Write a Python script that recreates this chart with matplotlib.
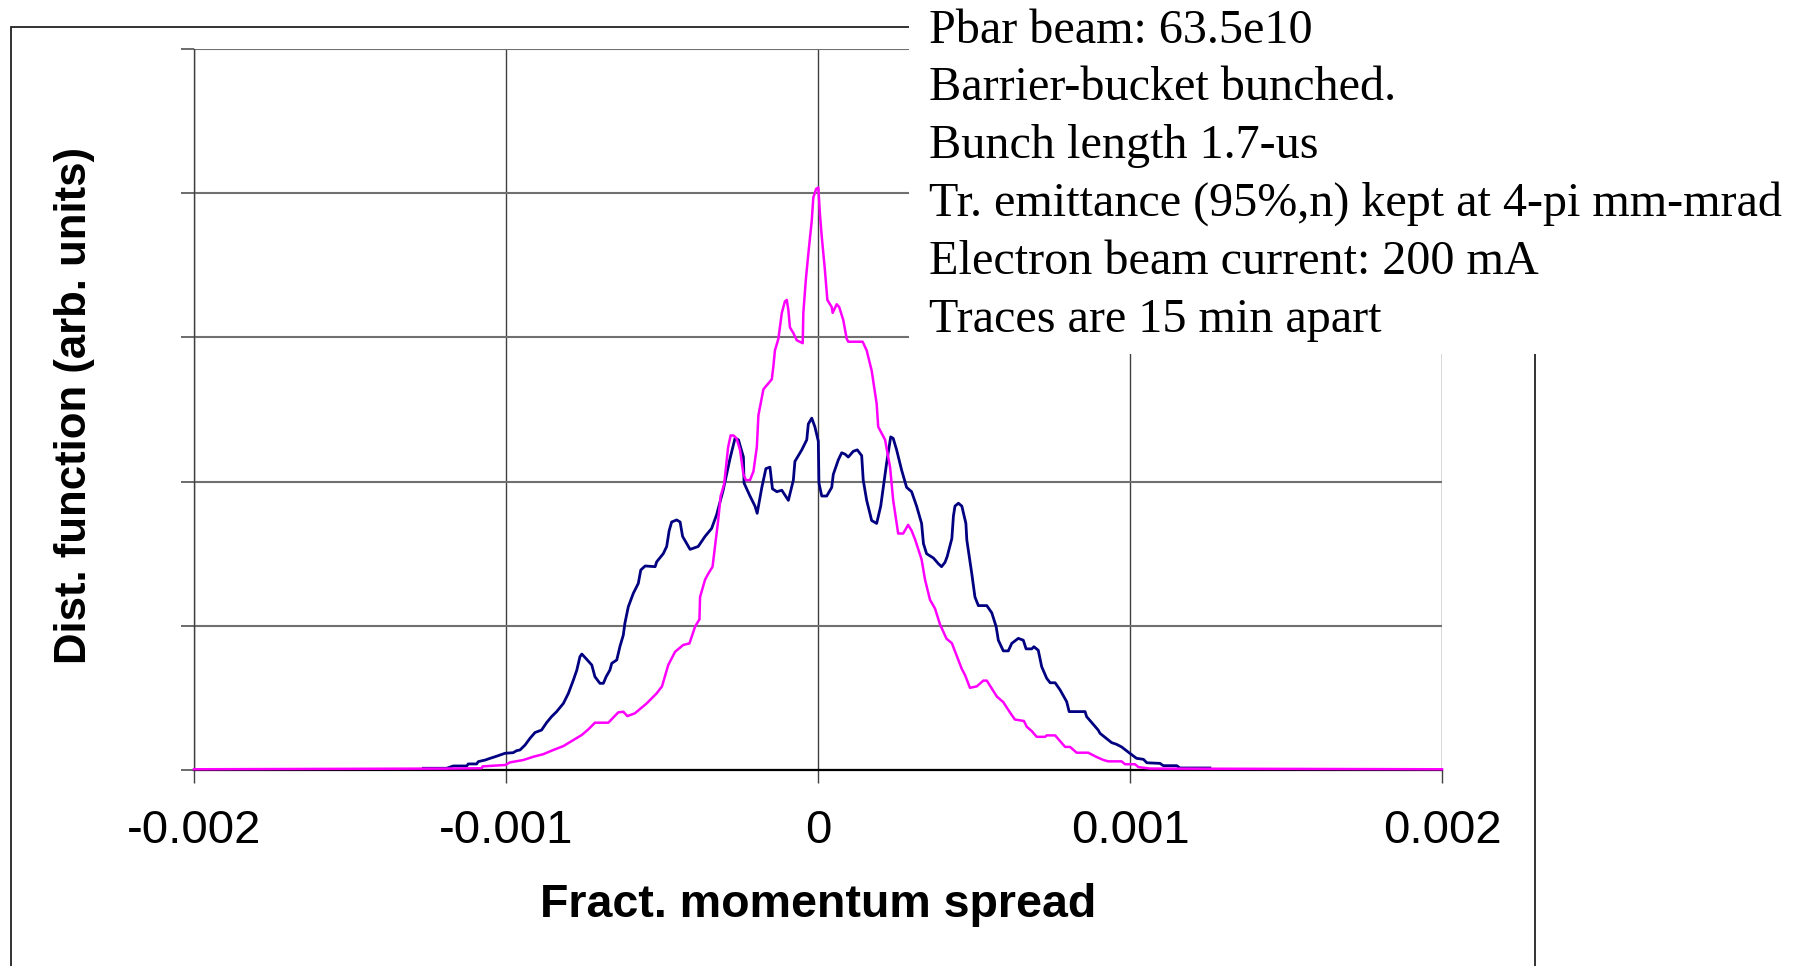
import matplotlib
matplotlib.use("Agg")
import matplotlib.pyplot as plt
from matplotlib.patches import Rectangle
import numpy as np

# ---- data (x in units of 1e-3 fractional momentum spread) ----
magenta_x_milli = [-2.000, -1.196, -1.078, -1.075, -1.002, -0.987, -0.945, -0.912, -0.880, -0.848,
                   -0.816, -0.784, -0.757, -0.736, -0.715, -0.672, -0.640, -0.624, -0.611, -0.587,
                   -0.549, -0.517, -0.500, -0.480, -0.458, -0.432, -0.412, -0.394, -0.380, -0.378,
                   -0.362, -0.352, -0.338, -0.330, -0.320, -0.312, -0.301, -0.295, -0.288, -0.280,
                   -0.271, -0.261, -0.250, -0.239, -0.231, -0.218, -0.207, -0.196, -0.191, -0.175,
                   -0.148, -0.143, -0.138, -0.127, -0.122, -0.116, -0.106, -0.100, -0.095, -0.090,
                   -0.079, -0.068, -0.049, -0.047, -0.039, -0.031, -0.020, -0.015, -0.006, 0.001,
                   0.006, 0.012, 0.022, 0.030, 0.044, 0.047, 0.060, 0.068, 0.081, 0.092,
                   0.097, 0.143, 0.156, 0.172, 0.188, 0.193, 0.215, 0.231, 0.241, 0.257,
                   0.273, 0.289, 0.300, 0.311, 0.332, 0.343, 0.359, 0.375, 0.391, 0.412,
                   0.429, 0.445, 0.461, 0.471, 0.487, 0.509, 0.530, 0.541, 0.573, 0.594,
                   0.615, 0.631, 0.660, 0.669, 0.685, 0.701, 0.728, 0.733, 0.760, 0.776,
                   0.792, 0.808, 0.829, 0.866, 0.893, 0.914, 0.930, 0.973, 0.984, 1.016,
                   1.027, 1.064, 2.000]
magenta_y = [0.005, 0.010, 0.012, 0.025, 0.035, 0.053, 0.069, 0.092, 0.110, 0.139,
             0.166, 0.208, 0.243, 0.282, 0.328, 0.328, 0.400, 0.404, 0.374, 0.393,
             0.462, 0.532, 0.580, 0.728, 0.820, 0.867, 0.878, 0.994, 1.045, 1.200,
             1.320, 1.360, 1.410, 1.550, 1.730, 1.900, 1.980, 2.100, 2.240, 2.320,
             2.320, 2.300, 2.220, 2.050, 2.010, 2.010, 2.070, 2.240, 2.460, 2.640,
             2.710, 2.800, 2.910, 2.990, 3.070, 3.170, 3.250, 3.260, 3.190, 3.070,
             3.030, 2.980, 2.960, 3.170, 3.400, 3.580, 3.810, 3.970, 4.030, 4.040,
             3.860, 3.700, 3.470, 3.260, 3.210, 3.170, 3.230, 3.210, 3.120, 2.990,
             2.970, 2.970, 2.910, 2.770, 2.540, 2.380, 2.290, 2.100, 1.870, 1.640,
             1.640, 1.700, 1.660, 1.600, 1.460, 1.320, 1.180, 1.120, 1.010, 0.910,
             0.880, 0.790, 0.700, 0.660, 0.570, 0.580, 0.620, 0.620, 0.510, 0.470,
             0.400, 0.350, 0.340, 0.300, 0.270, 0.230, 0.230, 0.240, 0.240, 0.200,
             0.160, 0.160, 0.120, 0.120, 0.090, 0.070, 0.060, 0.060, 0.040, 0.040,
             0.020, 0.010, 0.005]

navy_x_milli = [-1.265, -1.190, -1.169, -1.126, -1.121, -1.094, -1.089, -1.067, -1.051, -1.035,
                -1.019, -1.003, -0.977, -0.966, -0.955, -0.939, -0.923, -0.907, -0.886, -0.870,
                -0.854, -0.838, -0.816, -0.800, -0.784, -0.773, -0.763, -0.757, -0.744, -0.725,
                -0.715, -0.699, -0.688, -0.679, -0.667, -0.661, -0.645, -0.635, -0.624, -0.619,
                -0.608, -0.592, -0.576, -0.568, -0.554, -0.522, -0.517, -0.496, -0.485, -0.477,
                -0.469, -0.453, -0.442, -0.434, -0.410, -0.384, -0.362, -0.341, -0.325, -0.304,
                -0.282, -0.266, -0.255, -0.239, -0.237, -0.218, -0.202, -0.195, -0.180, -0.167,
                -0.154, -0.146, -0.132, -0.116, -0.095, -0.079, -0.074, -0.052, -0.036, -0.031,
                -0.020, -0.010, 0.001, 0.003, 0.012, 0.028, 0.044, 0.049, 0.065, 0.076,
                0.087, 0.097, 0.113, 0.126, 0.140, 0.145, 0.156, 0.172, 0.188, 0.201,
                0.220, 0.233, 0.241, 0.252, 0.268, 0.284, 0.300, 0.316, 0.332, 0.338,
                0.348, 0.370, 0.386, 0.396, 0.407, 0.414, 0.429, 0.434, 0.439, 0.450,
                0.461, 0.474, 0.477, 0.493, 0.503, 0.514, 0.541, 0.557, 0.571, 0.578,
                0.594, 0.610, 0.621, 0.642, 0.658, 0.667, 0.685, 0.692, 0.706, 0.717,
                0.733, 0.744, 0.760, 0.776, 0.797, 0.805, 0.856, 0.861, 0.898, 0.904,
                0.941, 0.957, 0.973, 1.000, 1.021, 1.043, 1.054, 1.096, 1.107, 1.150,
                1.160, 1.256]
navy_y = [0.012, 0.012, 0.028, 0.028, 0.042, 0.042, 0.058, 0.069, 0.081, 0.092,
          0.104, 0.116, 0.120, 0.134, 0.139, 0.173, 0.220, 0.260, 0.277, 0.328,
          0.370, 0.404, 0.462, 0.532, 0.624, 0.693, 0.786, 0.804, 0.774, 0.728,
          0.647, 0.601, 0.601, 0.647, 0.693, 0.740, 0.763, 0.855, 0.936, 1.017,
          1.132, 1.225, 1.294, 1.387, 1.415, 1.410, 1.444, 1.500, 1.550, 1.660,
          1.720, 1.734, 1.720, 1.620, 1.530, 1.550, 1.620, 1.675, 1.770, 1.940,
          2.160, 2.300, 2.290, 2.170, 1.990, 1.900, 1.830, 1.780, 1.960, 2.090,
          2.100, 1.950, 1.930, 1.940, 1.870, 2.010, 2.140, 2.220, 2.290, 2.400,
          2.440, 2.380, 2.280, 1.990, 1.900, 1.900, 1.960, 2.050, 2.150, 2.200,
          2.190, 2.170, 2.210, 2.220, 2.180, 2.010, 1.870, 1.730, 1.710, 1.830,
          2.130, 2.310, 2.300, 2.220, 2.080, 1.960, 1.930, 1.830, 1.710, 1.570,
          1.500, 1.470, 1.430, 1.410, 1.440, 1.480, 1.605, 1.760, 1.830, 1.850,
          1.830, 1.710, 1.595, 1.360, 1.200, 1.140, 1.140, 1.090, 0.994, 0.900,
          0.826, 0.826, 0.878, 0.913, 0.900, 0.840, 0.840, 0.855, 0.830, 0.716,
          0.636, 0.605, 0.605, 0.555, 0.474, 0.405, 0.405, 0.370, 0.277, 0.254,
          0.190, 0.178, 0.160, 0.115, 0.081, 0.074, 0.050, 0.046, 0.030, 0.030,
          0.014, 0.014]

x_ticks = [-0.002, -0.001, 0.0, 0.001, 0.002]
x_tick_labels = ["-0.002", "-0.001", "0", "0.001", "0.002"]
y_ticks = [0, 1, 2, 3, 4, 5]

info_lines = ["Pbar beam: 63.5e10",
              "Barrier-bucket bunched.",
              "Bunch length 1.7-us",
              "Tr. emittance (95%,n) kept at 4-pi mm-mrad",
              "Electron beam current: 200 mA",
              "Traces are 15 min apart"]

x_label = "Fract. momentum spread"
y_label = "Dist. function (arb. units)"

# ---- figure ----
W, H, DPI = 1800, 966, 100
fig = plt.figure(figsize=(W / DPI, H / DPI), dpi=DPI)
fig.patch.set_facecolor("white")

def fx(px):
    return px / W

def fy(py):
    return 1 - py / H

ax = fig.add_axes([fx(194), fy(770), fx(1442) - fx(194), fy(49) - fy(770)])
ax.set_facecolor("none")

ax.set_xlim(-0.002, 0.002)
ax.set_ylim(0, 5)
ax.set_xticks(x_ticks)
ax.set_xticklabels(x_tick_labels, family="Liberation Sans", fontsize=34)
ax.set_yticks(y_ticks)
ax.set_yticklabels([])

ax.tick_params(axis="x", direction="out", length=9.4, width=1.0, color="#404040", pad=19)
ax.tick_params(axis="y", direction="out", length=9.4, width=1.3, color="#606060")

ax.grid(axis="y", color="#707070", lw=1.5, zorder=0)
ax.grid(axis="x", color="#404040", lw=1.0, zorder=0)
ax.set_axisbelow(True)

for s in ["top", "right"]:
    ax.spines[s].set_visible(False)
ax.spines["left"].set_color("#404040")
ax.spines["left"].set_linewidth(1.0)
ax.spines["bottom"].set_color("black")
ax.spines["bottom"].set_linewidth(1.6)

ax.plot(np.array(navy_x_milli) * 1e-3, navy_y, color="#000080", lw=2.0, clip_on=False, zorder=3)
ax.plot(np.array(magenta_x_milli) * 1e-3, magenta_y, color="#FF00FF", lw=1.8, clip_on=False, zorder=4)

# axis titles
fig.text(fx(818), fy(905), x_label, ha="center", va="center", fontsize=33.5,
         fontweight="bold", family="Liberation Sans")
fig.text(fx(75), fy(406), y_label, ha="center", va="center", rotation=90, fontsize=31.5,
         fontweight="bold", family="Liberation Sans")

# outer chart-area frame
frame = Rectangle((fx(11), fy(1000)), fx(1535) - fx(11), fy(27) - fy(1000),
                  transform=fig.transFigure, facecolor="none", edgecolor="#222222",
                  lw=1.3, zorder=8)
fig.add_artist(frame)

# white text box covering the upper-right corner
box = Rectangle((fx(909), fy(354)), 1 - fx(909) + 0.01, 1 - fy(354) + 0.01,
                transform=fig.transFigure, facecolor="white", edgecolor="none", zorder=9)
fig.add_artist(box)

baselines = [43, 100, 158, 216, 274, 332]
for line, b in zip(info_lines, baselines):
    fig.text(fx(929), fy(b), line, ha="left", va="baseline", fontsize=34.7,
             family="Liberation Serif", zorder=10)

fig.savefig("out.png", dpi=DPI)
